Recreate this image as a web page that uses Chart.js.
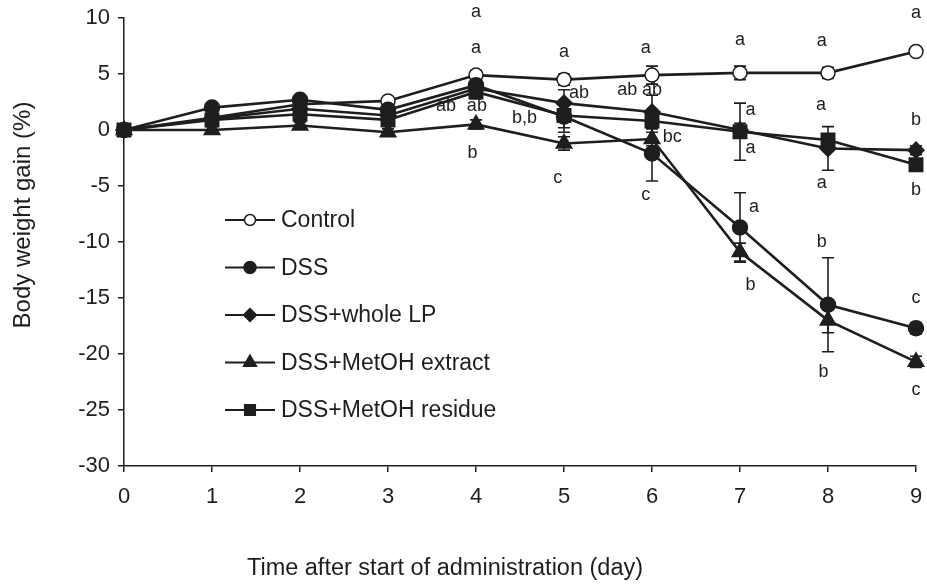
<!DOCTYPE html>
<html>
<head>
<meta charset="utf-8">
<script src="https://cdn.jsdelivr.net/npm/chart.js@4"></script>
<style>
html,body{margin:0;padding:0;background:#fff;}
canvas{display:block;}
</style>
</head>
<body>
<canvas id="c" width="927" height="586"></canvas>
<script>
// ---- data ----
const days = [0, 1, 2, 3, 4, 5, 6, 7, 8, 9];
const seriesNames = ['Control', 'DSS', 'DSS+whole LP', 'DSS+MetOH extract', 'DSS+MetOH residue'];
const control      = [0, 1.1, 2.3, 2.6, 4.9, 4.5, 4.9, 5.1, 5.1, 7.0];
const dss          = [0, 2.0, 2.7, 1.8, 4.0, 1.2, -2.1, -8.7, -15.6, -17.7];
const wholeLP      = [0, 1.0, 1.9, 1.3, 3.7, 2.4, 1.6, 0.0, -1.65, -1.8];
const metohExtract = [0, 0.0, 0.4, -0.2, 0.5, -1.2, -0.8, -10.9, -17.0, -20.7];
const metohResidue = [0, 0.9, 1.4, 0.9, 3.4, 1.3, 0.8, -0.15, -0.9, -3.1];

const controlErr   = [0, 0.3, 0.3, 0.3, 0.4, 0.5, 0.8, 0.6, 0.5, 0.3];
const dssErr       = [0, 0.3, 0.4, 0.5, 0.6, 1.4, 2.45, 3.1, 4.2, 0.5];
const wholeLPErr   = [0, 0.3, 0.4, 0.4, 0.5, 1.2, 1.5, 0.6, 1.95, 0.4];
const extractErr   = [0, 0.3, 0.3, 0.3, 0.4, 0.6, 0.6, 0.8, 1.1, 0.5];
const residueErr   = [0, 0.3, 0.4, 0.4, 0.6, 1.1, 0.6, 2.55, 0.5, 0.4];

const yTicks = [-30, -25, -20, -15, -10, -5, 0, 5, 10];
const xTitle = 'Time after start of administration (day)';
const yTitle = 'Body weight gain (%)';

// significance letters: [day, value, text]
const letterLabels = [
  [4.0, 10.5, 'a'], [4.0, 7.3, 'a'], [3.66, 2.1, 'ab'], [4.01, 2.1, 'ab'], [3.96, -2.05, 'b'],
  [5.0, 7.0, 'a'], [5.17, 3.3, 'ab'], [4.55, 1.05, 'b,b'], [4.93, -4.3, 'c'],
  [5.93, 7.3, 'a'], [5.72, 3.55, 'ab'], [6.0, 3.55, 'ab'], [6.23, -0.6, 'bc'], [5.93, -5.8, 'c'],
  [7.0, 8.0, 'a'], [7.12, 1.8, 'a'], [7.12, -1.6, 'a'], [7.16, -6.9, 'a'], [7.12, -13.8, 'b'],
  [7.93, 7.9, 'a'], [7.92, 2.2, 'a'], [7.93, -4.7, 'a'], [7.93, -10.0, 'b'], [7.95, -21.6, 'b'],
  [9.0, 10.4, 'a'], [9.0, 0.9, 'b'], [9.0, -5.4, 'b'], [9.0, -15.0, 'c'], [9.0, -23.2, 'c']
];

// ---- styles ----
const INK = '#1e1e1e';
const FONT = "'Liberation Sans', Arial, Helvetica, sans-serif";
const seriesValues = [control, dss, wholeLP, metohExtract, metohResidue];
const seriesErrors = [controlErr, dssErr, wholeLPErr, extractErr, residueErr];
const pointStyles = ['circle', 'circle', 'rectRot', 'triangle', 'rect'];
const pointRadii = [7, 7.5, 8, 9, 9.5];
const legendRadii = [5.5, 6, 6.5, 7.5, 7.5];
const fills = ['#ffffff', INK, INK, INK, INK];

const datasets = seriesNames.map((name, i) => ({
  label: name,
  data: days.map((d, j) => ({x: d, y: seriesValues[i][j]})),
  borderColor: INK,
  borderWidth: 2.6,
  pointStyle: pointStyles[i],
  pointRadius: pointRadii[i],
  pointBackgroundColor: fills[i],
  pointBorderColor: INK,
  pointBorderWidth: 1.5,
  tension: 0,
  clip: false,
  order: seriesNames.length - i,
  errors: seriesErrors[i]
}));

const errorBarPlugin = {
  id: 'errorBars',
  beforeDatasetsDraw(chart) {
    const ctx = chart.ctx, xs = chart.scales.x, ys = chart.scales.y;
    ctx.save();
    ctx.strokeStyle = INK;
    ctx.lineWidth = 1.6;
    chart.data.datasets.forEach(ds => {
      ds.data.forEach((p, j) => {
        const e = ds.errors[j];
        if (!e) return;
        const x = xs.getPixelForValue(p.x);
        const y1 = ys.getPixelForValue(p.y + e);
        const y2 = ys.getPixelForValue(p.y - e);
        ctx.beginPath();
        ctx.moveTo(x, y1); ctx.lineTo(x, y2);
        ctx.moveTo(x - 6, y1); ctx.lineTo(x + 6, y1);
        ctx.moveTo(x - 6, y2); ctx.lineTo(x + 6, y2);
        ctx.stroke();
      });
    });
    ctx.restore();
  }
};

const lettersPlugin = {
  id: 'letters',
  afterDatasetsDraw(chart) {
    const ctx = chart.ctx, xs = chart.scales.x, ys = chart.scales.y;
    ctx.save();
    ctx.fillStyle = INK;
    ctx.font = '18px ' + FONT;
    ctx.textAlign = 'center';
    ctx.textBaseline = 'middle';
    letterLabels.forEach(([d, v, t]) => {
      ctx.fillText(t, xs.getPixelForValue(d), ys.getPixelForValue(v));
    });
    ctx.restore();
  }
};

const legendPlugin = {
  id: 'customLegend',
  afterDraw(chart) {
    const ctx = chart.ctx;
    const a = chart.chartArea;
    const x0 = a.left + 101, x1 = a.left + 151, xm = a.left + 126;
    const yStart = 220, dy = 47.5;
    ctx.save();
    chart.data.datasets.forEach((ds, i) => {
      const y = yStart + i * dy;
      ctx.strokeStyle = INK;
      ctx.lineWidth = 2;
      ctx.beginPath(); ctx.moveTo(x0, y); ctx.lineTo(x1, y); ctx.stroke();
      ctx.fillStyle = fills[i];
      ctx.lineWidth = 1.5;
      Chart.helpers.drawPoint(ctx, {pointStyle: pointStyles[i], radius: legendRadii[i], rotation: 0, borderWidth: 1.5}, xm, y);
      ctx.fillStyle = INK;
      ctx.font = '23px ' + FONT;
      ctx.textAlign = 'left';
      ctx.textBaseline = 'middle';
      ctx.fillText(ds.label, x1 + 6, y + 1);
    });
    // axis titles
    ctx.fillStyle = INK;
    ctx.font = '23.5px ' + FONT;
    ctx.textAlign = 'center';
    ctx.textBaseline = 'middle';
    ctx.fillText(xTitle, 445, 569);
    ctx.save();
    ctx.font = '24px ' + FONT;
    ctx.translate(23, 215);
    ctx.rotate(-Math.PI / 2);
    ctx.fillText(yTitle, 0, 0);
    ctx.restore();
    ctx.restore();
  }
};

new Chart(document.getElementById('c'), {
  type: 'line',
  data: {datasets},
  options: {
    responsive: false,
    animation: false,
    layout: {padding: {top: 18, right: 9, left: 0, bottom: 0}},
    plugins: {legend: {display: false}, tooltip: {enabled: false}},
    scales: {
      x: {
        type: 'linear', min: 0, max: 9,
        ticks: {stepSize: 1, color: INK, font: {family: FONT, size: 22}, padding: 12},
        grid: {display: true, drawOnChartArea: false, drawTicks: true, tickLength: 6, color: INK, lineWidth: 1.5},
        border: {display: true, color: INK, width: 1.5},
        afterFit(s) { s.height = 120; s.paddingLeft = 0; s.paddingRight = 0; s.paddingTop = 0; s.paddingBottom = 0; }
      },
      y: {
        type: 'linear', min: -30, max: 10,
        afterBuildTicks(s) { s.ticks = yTicks.map(v => ({value: v})); },
        ticks: {color: INK, font: {family: FONT, size: 22}, padding: 8},
        grid: {display: true, drawOnChartArea: false, drawTicks: true, tickLength: 6, color: INK, lineWidth: 1.5},
        border: {display: true, color: INK, width: 1.5},
        afterFit(s) { s.width = 124; s.paddingLeft = 0; s.paddingRight = 0; s.paddingTop = 0; s.paddingBottom = 0; }
      }
    }
  },
  plugins: [errorBarPlugin, lettersPlugin, legendPlugin]
});
</script>
</body>
</html>
